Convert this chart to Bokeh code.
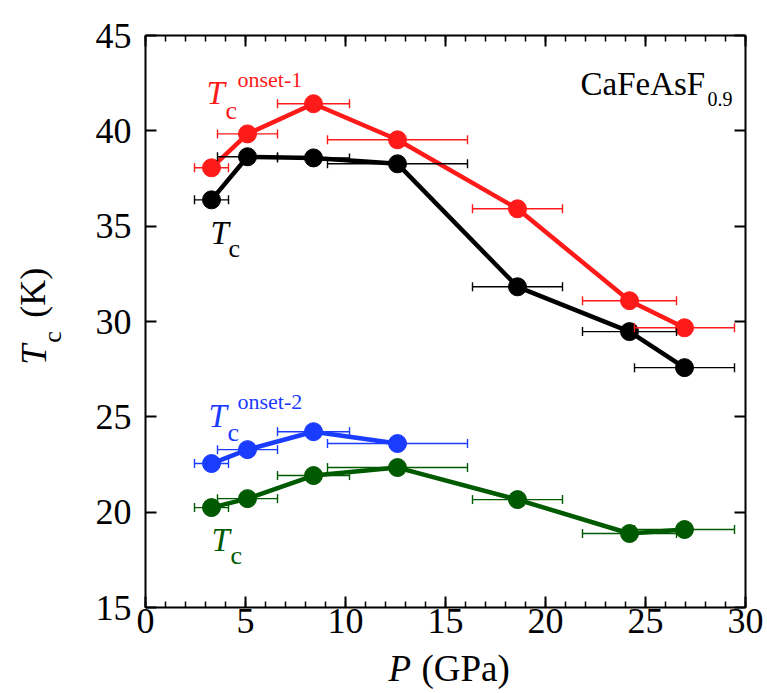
import math
from bokeh.plotting import figure
from bokeh.models import (Range1d, LinearAxis, Whisker, ColumnDataSource, Label,
                          TeeHead, SingleIntervalTicker)
from bokeh.embed import file_html
from bokeh.resources import INLINE

# ---- data ----
pressure = [3.3, 5.1, 8.4, 12.6, 18.6, 24.2, 26.95]
pressure_err = [0.85, 1.5, 1.8, 3.5, 2.25, 2.35, 2.5]
tc_onset1 = [38.06, 39.84, 41.42, 39.53, 35.91, 31.09, 29.67]
tc_main = [36.38, 38.64, 38.58, 38.27, 31.82, 29.47, 27.58]
tc_onset2 = [22.55, 23.28, 24.22, 23.60]
tc_low = [20.24, 20.71, 21.92, 22.34, 20.66, 18.88, 19.09]

RED = "#ff1a1a"
BLACK = "#000000"
BLUE = "#1a3cff"
GREEN = "#005a00"
FONT = "'Liberation Serif', 'Times New Roman', 'DejaVu Serif', serif"

FL, FT, FB = 145, 35, 607  # frame left / top / bottom in pixels

p = figure(width=767, height=693, x_range=Range1d(0, 30), y_range=Range1d(15, 45),
           output_backend="svg", toolbar_location=None,
           x_axis_location=None, y_axis_location=None,
           min_border_left=FL, min_border_right=22, min_border_top=FT, min_border_bottom=693 - FB)
for g in p.grid:
    g.visible = False
p.outline_line_color = None
p.background_fill_color = "white"
p.border_fill_color = "white"


def style_axis(ax, show_labels, standoff):
    ax.axis_line_width = 2
    ax.axis_line_color = "black"
    ax.major_tick_in = 11
    ax.major_tick_out = 0
    ax.major_tick_line_width = 2
    ax.minor_tick_in = 6
    ax.minor_tick_out = 0
    ax.minor_tick_line_width = 1.5
    ax.major_label_text_font = FONT
    ax.major_label_text_font_size = "36px"
    ax.major_label_text_color = "black"
    ax.major_label_standoff = standoff
    if not show_labels:
        ax.major_label_text_alpha = 0
        ax.major_label_text_font_size = "1px"


xb = LinearAxis(ticker=SingleIntervalTicker(interval=5, num_minor_ticks=5))
xt = LinearAxis(ticker=SingleIntervalTicker(interval=5, num_minor_ticks=5))
yl = LinearAxis(ticker=SingleIntervalTicker(interval=5, num_minor_ticks=0))
yr = LinearAxis(ticker=SingleIntervalTicker(interval=5, num_minor_ticks=0))
style_axis(xb, True, 1)
style_axis(xt, False, 0)
style_axis(yl, True, 14)
style_axis(yr, False, 0)
p.add_layout(xb, "below")
p.add_layout(xt, "above")
p.add_layout(yl, "left")
p.add_layout(yr, "right")


def series(xs, ys, errs, color):
    src = ColumnDataSource(dict(x=xs, y=ys,
                                lo=[a - e for a, e in zip(xs, errs)],
                                hi=[a + e for a, e in zip(xs, errs)]))
    w = Whisker(base="y", lower="lo", upper="hi", dimension="width", source=src,
                line_color=color, line_width=1.4, level="glyph",
                lower_head=TeeHead(size=9, line_color=color, line_width=1.4),
                upper_head=TeeHead(size=9, line_color=color, line_width=1.4))
    p.add_layout(w)
    p.line("x", "y", source=src, line_color=color, line_width=4.5)
    p.scatter("x", "y", source=src, size=18, fill_color=color, line_color=color)


series(pressure, tc_main, pressure_err, BLACK)
series(pressure, tc_onset1, pressure_err, RED)
series(pressure, tc_low, pressure_err, GREEN)
series(pressure[:4], tc_onset2, pressure_err[:4], BLUE)

DY = 9  # empirical baseline correction (pixels)


# pixel position on the canvas -> data coordinates of the frame
def X(px):
    return (px - FL) / 20.0


def Y(py):
    return 40 - (py - 130) / 19.08


def mk(px, py, text, color, size, italic=False, rotated=False):
    if rotated:
        px = px - DY
    else:
        py = py - DY
    return Label(x=X(px), y=Y(py), text=text, text_color=color,
                 text_font=FONT, text_font_size=size,
                 text_font_style="italic" if italic else "normal",
                 text_baseline="alphabetic", text_align="left",
                 angle=math.pi / 2 if rotated else 0.0)


def lab(px, py, text, color, size, italic=False):
    p.add_layout(mk(px, py, text, color, size, italic))


lab(206, 101, "T", RED, "33px", True)
lab(225, 119, "c", RED, "26px")
lab(237, 88, "onset-1", RED, "22px")

lab(210, 241, "T", BLACK, "33px", True)
lab(228, 257, "c", BLACK, "26px")

lab(208, 424, "T", BLUE, "33px", True)
lab(227, 441, "c", BLUE, "26px")
lab(237, 410, "onset-2", BLUE, "22px")

lab(211, 548, "T", GREEN, "33px", True)
lab(230, 564, "c", GREEN, "26px")

lab(580, 92, "CaFeAsF", BLACK, "33px")
lab(707, 107, "0.9", BLACK, "20px")

# axis titles: placed in side panels so they are not clipped to the frame
p.add_layout(mk(421, 677, "(GPa)", BLACK, "37px"), "below")
p.add_layout(mk(388, 677, "P", BLACK, "37px", True), "left")
p.add_layout(mk(41, 317, "(K)", BLACK, "36px", False, True), "left")
p.add_layout(mk(42, 364, "T", BLACK, "36px", True, True), "above")
p.add_layout(mk(61, 342, "c", BLACK, "26px", False, True), "above")

open("out.html", "w").write(file_html(p, INLINE))
